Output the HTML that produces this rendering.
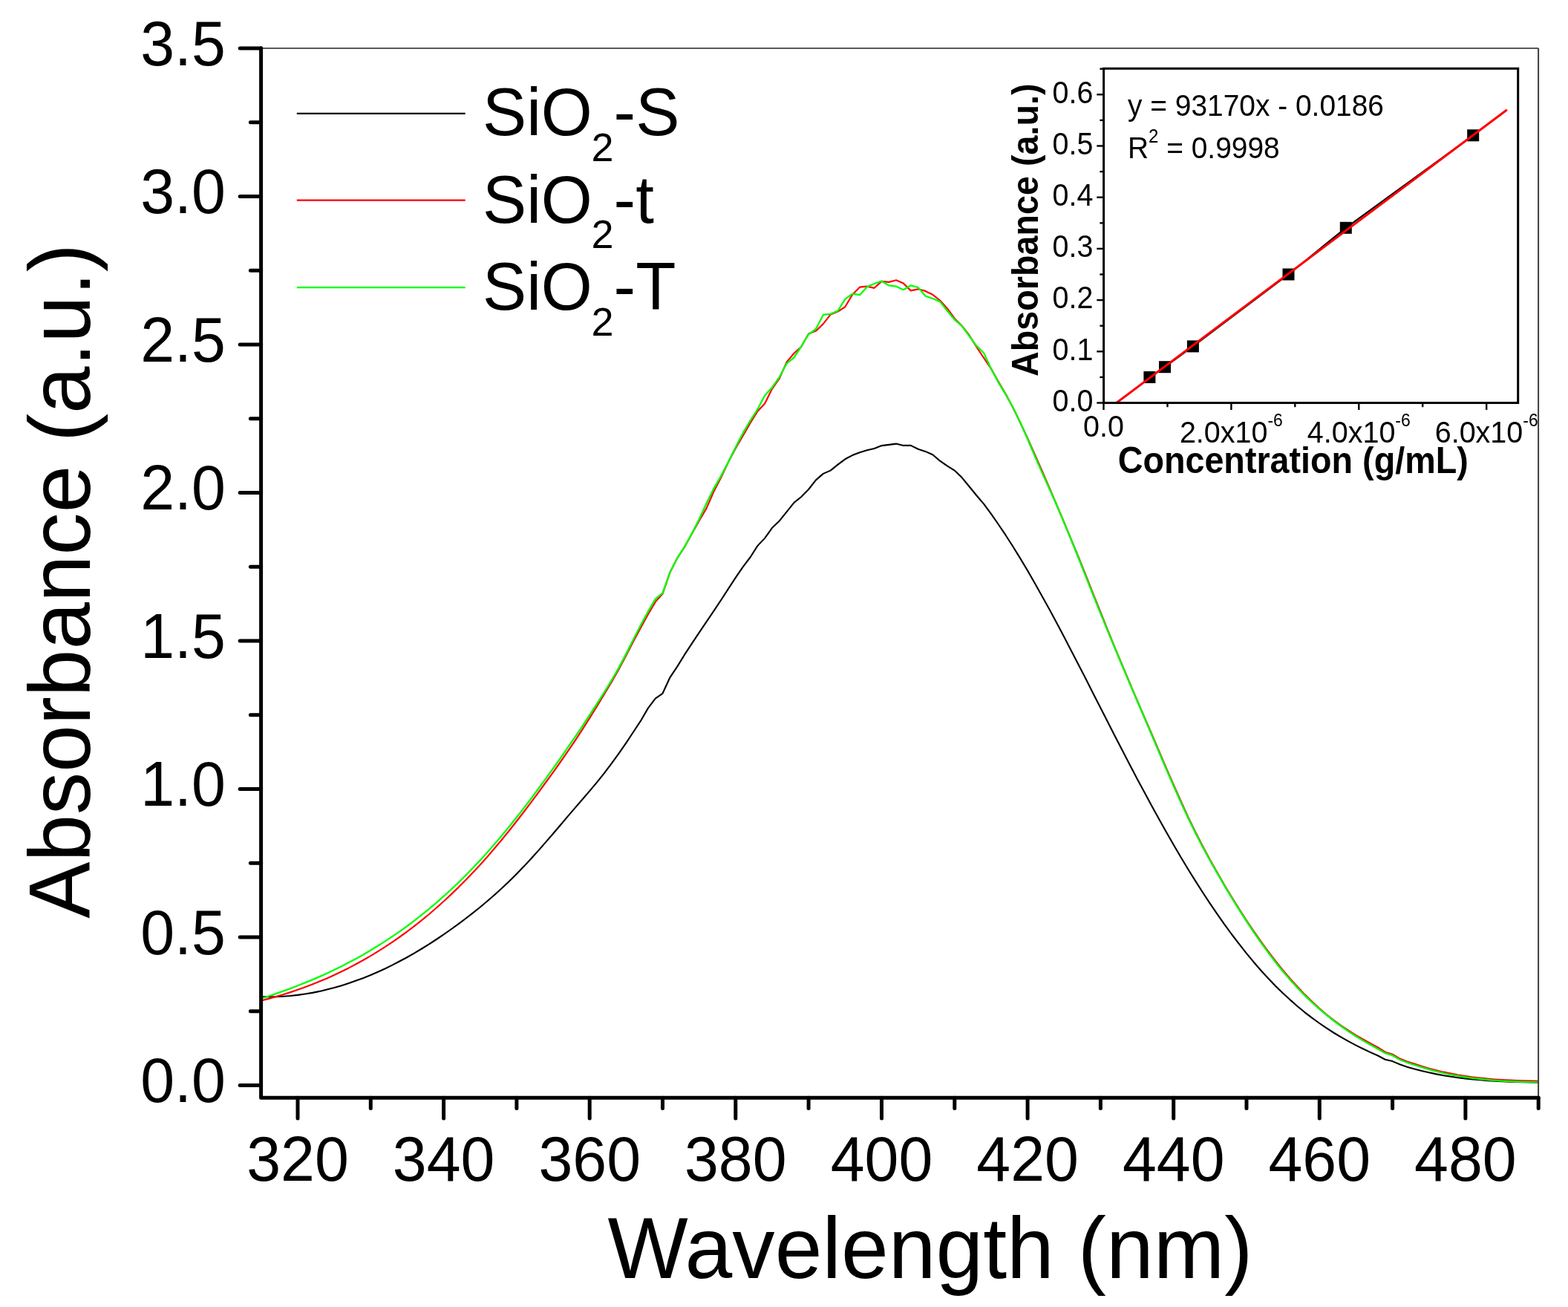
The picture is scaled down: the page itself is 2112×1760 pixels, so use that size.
<!DOCTYPE html><html><head><meta charset="utf-8"><style>html,body{margin:0;padding:0;background:#fff;}svg{display:block;}text{font-family:"Liberation Sans",Arial,sans-serif;}</style></head><body>
<svg width="2112" height="1760" viewBox="0 0 2112 1760">
<rect width="2112" height="1760" fill="#fff"/>
<path d="M351.9,1342.2 L361.7,1342.3 L371.5,1342.2 L381.3,1341.7 L391.2,1341.0 L401.0,1339.9 L410.8,1338.5 L420.7,1336.9 L430.5,1334.9 L440.3,1332.6 L450.2,1330.1 L460.0,1327.2 L469.8,1324.1 L479.6,1320.6 L489.5,1316.9 L499.3,1313.0 L509.1,1308.7 L519.0,1304.2 L528.8,1299.4 L538.6,1294.3 L548.5,1289.0 L558.3,1283.4 L568.1,1277.5 L578.0,1271.4 L587.8,1265.0 L597.6,1258.4 L607.4,1251.5 L617.3,1244.4 L627.1,1237.0 L636.9,1229.4 L646.8,1221.5 L656.6,1213.2 L666.4,1204.7 L676.3,1195.8 L686.1,1186.5 L695.9,1176.8 L705.8,1166.6 L715.6,1156.0 L725.4,1145.1 L735.2,1133.9 L745.1,1122.5 L754.9,1111.0 L764.7,1099.4 L774.6,1087.9 L784.4,1076.5 L794.2,1065.1 L804.1,1053.4 L813.9,1041.1 L823.7,1028.2 L833.5,1014.6 L843.4,1000.3 L853.2,985.5 L863.0,970.7 L872.9,953.6 L882.7,940.6 L892.5,933.8 L902.4,912.3 L912.2,897.6 L922.0,881.7 L931.9,866.6 L941.7,851.9 L951.5,837.4 L961.3,822.9 L971.2,808.0 L981.0,792.9 L990.8,777.9 L1000.7,763.3 L1010.5,750.5 L1020.3,735.1 L1030.2,724.6 L1040.0,710.8 L1049.8,701.4 L1059.7,689.1 L1069.5,676.9 L1079.3,669.0 L1089.1,659.0 L1099.0,646.4 L1108.8,637.9 L1118.6,633.6 L1128.5,625.6 L1138.3,618.3 L1148.1,613.1 L1158.0,609.2 L1167.8,606.3 L1177.6,603.9 L1187.5,600.1 L1197.3,598.9 L1207.1,597.6 L1216.9,599.9 L1226.8,599.9 L1236.6,604.8 L1246.4,607.9 L1256.3,612.3 L1266.1,620.7 L1275.9,627.4 L1285.8,633.6 L1295.6,643.1 L1305.4,655.0 L1315.2,667.0 L1325.1,678.6 L1334.9,691.8 L1344.7,706.0 L1354.6,720.7 L1364.4,736.0 L1374.2,751.9 L1384.1,768.4 L1393.9,785.4 L1403.7,802.9 L1413.6,820.8 L1423.4,839.0 L1433.2,857.6 L1443.0,876.4 L1452.9,895.5 L1462.7,914.6 L1472.5,933.9 L1482.4,953.2 L1492.2,972.5 L1502.0,991.7 L1511.9,1010.8 L1521.7,1029.7 L1531.5,1048.4 L1541.4,1066.8 L1551.2,1085.0 L1561.0,1102.8 L1570.8,1120.3 L1580.7,1137.5 L1590.5,1154.2 L1600.3,1170.5 L1610.2,1186.4 L1620.0,1201.8 L1629.8,1216.7 L1639.7,1231.1 L1649.5,1245.1 L1659.3,1258.5 L1669.2,1271.4 L1679.0,1283.8 L1688.8,1295.7 L1698.6,1307.0 L1708.5,1317.7 L1718.3,1327.9 L1728.1,1337.5 L1738.0,1346.6 L1747.8,1355.2 L1757.6,1363.3 L1767.5,1370.9 L1777.3,1378.0 L1787.1,1384.7 L1796.9,1391.0 L1806.8,1396.8 L1816.6,1402.4 L1826.4,1407.6 L1836.3,1412.5 L1846.1,1417.1 L1855.9,1421.5 L1865.8,1426.8 L1875.6,1429.1 L1885.4,1433.3 L1895.3,1436.7 L1905.1,1439.4 L1914.9,1442.0 L1924.7,1444.3 L1934.6,1446.4 L1944.4,1448.2 L1954.2,1449.8 L1964.1,1451.2 L1973.9,1452.4 L1983.7,1453.4 L1993.6,1454.3 L2003.4,1455.1 L2013.2,1455.7 L2023.1,1456.2 L2032.9,1456.6 L2042.7,1457.0 L2052.5,1457.2 L2062.4,1457.4 L2072.2,1457.6" fill="none" stroke="#000" stroke-width="2.1" stroke-linejoin="round"/>
<path d="M351.9,1347.5 L361.7,1344.9 L371.5,1342.1 L381.3,1339.2 L391.2,1336.1 L401.0,1332.8 L410.8,1329.2 L420.7,1325.5 L430.5,1321.5 L440.3,1317.4 L450.2,1312.9 L460.0,1308.3 L469.8,1303.4 L479.6,1298.2 L489.5,1292.8 L499.3,1287.1 L509.1,1281.1 L519.0,1274.9 L528.8,1268.3 L538.6,1261.5 L548.5,1254.3 L558.3,1246.9 L568.1,1239.1 L578.0,1231.0 L587.8,1222.5 L597.6,1213.7 L607.4,1204.6 L617.3,1195.1 L627.1,1185.2 L636.9,1175.0 L646.8,1164.4 L656.6,1153.4 L666.4,1142.0 L676.3,1130.3 L686.1,1118.2 L695.9,1105.7 L705.8,1093.0 L715.6,1080.1 L725.4,1066.9 L735.2,1053.5 L745.1,1039.9 L754.9,1026.0 L764.7,1011.8 L774.6,997.3 L784.4,982.3 L794.2,966.9 L804.1,951.0 L813.9,934.8 L823.7,918.5 L833.5,901.2 L843.4,882.6 L853.2,863.6 L863.0,845.2 L872.9,827.2 L882.7,810.6 L892.5,799.6 L902.4,770.8 L912.2,751.6 L922.0,736.6 L931.9,718.8 L941.7,701.2 L951.5,684.6 L961.3,662.0 L971.2,643.0 L981.0,622.3 L990.8,603.8 L1000.7,586.8 L1010.5,569.7 L1020.3,554.0 L1030.2,543.2 L1040.0,523.5 L1049.8,509.6 L1059.7,487.4 L1069.5,475.7 L1079.3,466.7 L1089.1,449.5 L1099.0,445.6 L1108.8,436.1 L1118.6,423.6 L1128.5,419.6 L1138.3,413.3 L1148.1,396.8 L1158.0,386.7 L1167.8,385.7 L1177.6,387.8 L1187.5,378.9 L1197.3,379.9 L1207.1,377.3 L1216.9,381.6 L1226.8,391.4 L1236.6,389.3 L1246.4,391.9 L1256.3,396.8 L1266.1,404.5 L1275.9,415.4 L1285.8,429.0 L1295.6,438.8 L1305.4,451.3 L1315.2,467.0 L1325.1,482.0 L1334.9,496.4 L1344.7,513.8 L1354.6,530.6 L1364.4,549.1 L1374.2,569.1 L1384.1,590.2 L1393.9,612.1 L1403.7,634.5 L1413.6,657.2 L1423.4,680.2 L1433.2,703.3 L1443.0,726.8 L1452.9,750.7 L1462.7,775.1 L1472.5,799.9 L1482.4,824.5 L1492.2,848.8 L1502.0,872.8 L1511.9,896.5 L1521.7,919.8 L1531.5,942.8 L1541.4,965.6 L1551.2,988.3 L1561.0,1011.2 L1570.8,1034.1 L1580.7,1056.7 L1590.5,1078.8 L1600.3,1100.2 L1610.2,1120.4 L1620.0,1139.6 L1629.8,1157.8 L1639.7,1175.3 L1649.5,1192.2 L1659.3,1208.6 L1669.2,1224.4 L1679.0,1239.6 L1688.8,1254.2 L1698.6,1268.2 L1708.5,1281.6 L1718.3,1294.4 L1728.1,1306.6 L1738.0,1318.2 L1747.8,1329.1 L1757.6,1339.4 L1767.5,1349.1 L1777.3,1358.1 L1787.1,1366.5 L1796.9,1374.2 L1806.8,1381.3 L1816.6,1387.9 L1826.4,1394.1 L1836.3,1399.8 L1846.1,1405.3 L1855.9,1410.5 L1865.8,1416.7 L1875.6,1419.8 L1885.4,1425.6 L1895.3,1429.5 L1905.1,1432.6 L1914.9,1435.8 L1924.7,1438.7 L1934.6,1441.3 L1944.4,1443.7 L1954.2,1445.7 L1964.1,1447.6 L1973.9,1449.1 L1983.7,1450.5 L1993.6,1451.7 L2003.4,1452.7 L2013.2,1453.5 L2023.1,1454.2 L2032.9,1454.7 L2042.7,1455.1 L2052.5,1455.4 L2062.4,1455.6 L2072.2,1455.8" fill="none" stroke="#f00" stroke-width="2.2" stroke-linejoin="round"/>
<path d="M351.9,1344.7 L361.7,1341.5 L371.5,1338.1 L381.3,1334.7 L391.2,1331.1 L401.0,1327.3 L410.8,1323.4 L420.7,1319.4 L430.5,1315.1 L440.3,1310.7 L450.2,1306.0 L460.0,1301.2 L469.8,1296.1 L479.6,1290.9 L489.5,1285.4 L499.3,1279.6 L509.1,1273.6 L519.0,1267.4 L528.8,1260.9 L538.6,1254.1 L548.5,1247.0 L558.3,1239.6 L568.1,1231.9 L578.0,1223.9 L587.8,1215.6 L597.6,1206.9 L607.4,1198.0 L617.3,1188.6 L627.1,1178.9 L636.9,1168.8 L646.8,1158.4 L656.6,1147.6 L666.4,1136.3 L676.3,1124.7 L686.1,1112.8 L695.9,1100.5 L705.8,1087.9 L715.6,1075.0 L725.4,1061.8 L735.2,1048.4 L745.1,1034.7 L754.9,1020.8 L764.7,1006.7 L774.6,992.4 L784.4,977.8 L794.2,962.9 L804.1,947.7 L813.9,932.2 L823.7,916.2 L833.5,899.1 L843.4,880.4 L853.2,861.0 L863.0,841.8 L872.9,823.6 L882.7,806.7 L892.5,798.7 L902.4,770.8 L912.2,751.6 L922.0,736.4 L931.9,718.6 L941.7,699.2 L951.5,677.9 L961.3,658.1 L971.2,640.9 L981.0,622.1 L990.8,602.2 L1000.7,583.2 L1010.5,566.5 L1020.3,551.3 L1030.2,532.5 L1040.0,521.7 L1049.8,507.8 L1059.7,489.4 L1069.5,481.5 L1079.3,466.5 L1089.1,450.2 L1099.0,443.0 L1108.8,423.9 L1118.6,422.8 L1128.5,418.6 L1138.3,402.9 L1148.1,395.6 L1158.0,397.2 L1167.8,386.4 L1177.6,382.0 L1187.5,378.6 L1197.3,384.4 L1207.1,385.7 L1216.9,390.2 L1226.8,384.3 L1236.6,387.0 L1246.4,398.6 L1256.3,402.0 L1266.1,406.1 L1275.9,418.6 L1285.8,430.5 L1295.6,438.8 L1305.4,452.4 L1315.2,465.6 L1325.1,475.3 L1334.9,496.5 L1344.7,514.8 L1354.6,531.2 L1364.4,548.5 L1374.2,568.8 L1384.1,591.2 L1393.9,614.2 L1403.7,636.6 L1413.6,658.4 L1423.4,680.5 L1433.2,703.6 L1443.0,727.5 L1452.9,752.0 L1462.7,776.8 L1472.5,801.6 L1482.4,826.1 L1492.2,850.1 L1502.0,873.8 L1511.9,897.2 L1521.7,920.4 L1531.5,943.5 L1541.4,966.5 L1551.2,989.5 L1561.0,1012.6 L1570.8,1035.6 L1580.7,1058.3 L1590.5,1080.4 L1600.3,1101.6 L1610.2,1121.8 L1620.0,1140.8 L1629.8,1158.8 L1639.7,1176.2 L1649.5,1193.1 L1659.3,1209.5 L1669.2,1225.3 L1679.0,1240.7 L1688.8,1255.4 L1698.6,1269.6 L1708.5,1283.1 L1718.3,1296.0 L1728.1,1308.2 L1738.0,1319.7 L1747.8,1330.5 L1757.6,1340.6 L1767.5,1350.1 L1777.3,1358.9 L1787.1,1367.2 L1796.9,1375.0 L1806.8,1382.3 L1816.6,1389.1 L1826.4,1395.5 L1836.3,1401.5 L1846.1,1407.1 L1855.9,1412.4 L1865.8,1418.2 L1875.6,1421.2 L1885.4,1427.0 L1895.3,1430.8 L1905.1,1434.0 L1914.9,1437.2 L1924.7,1440.1 L1934.6,1442.7 L1944.4,1445.0 L1954.2,1447.1 L1964.1,1448.9 L1973.9,1450.5 L1983.7,1451.8 L1993.6,1453.0 L2003.4,1454.0 L2013.2,1454.9 L2023.1,1455.6 L2032.9,1456.1 L2042.7,1456.5 L2052.5,1456.9 L2062.4,1457.1 L2072.2,1457.3" fill="none" stroke="#0f0" stroke-width="2.3" stroke-linejoin="round"/>
<line x1="352" y1="65.1" x2="2072.2" y2="65.1" stroke="#585858" stroke-width="2"/>
<line x1="2072.1" y1="65.1" x2="2072.1" y2="1478" stroke="#3c3c3c" stroke-width="2"/>
<path d="M351.6,64.8 L351.6,1478.3 L2072.2,1478.3" fill="none" stroke="#000" stroke-width="5" stroke-linejoin="round" stroke-linecap="round"/>
<line x1="323.2" y1="1461.5" x2="351.6" y2="1461.5" stroke="#000" stroke-width="5" stroke-linecap="round"/>
<line x1="337.4" y1="1361.8" x2="351.6" y2="1361.8" stroke="#000" stroke-width="5" stroke-linecap="round"/>
<line x1="323.2" y1="1262.0" x2="351.6" y2="1262.0" stroke="#000" stroke-width="5" stroke-linecap="round"/>
<line x1="337.4" y1="1162.2" x2="351.6" y2="1162.2" stroke="#000" stroke-width="5" stroke-linecap="round"/>
<line x1="323.2" y1="1062.5" x2="351.6" y2="1062.5" stroke="#000" stroke-width="5" stroke-linecap="round"/>
<line x1="337.4" y1="962.8" x2="351.6" y2="962.8" stroke="#000" stroke-width="5" stroke-linecap="round"/>
<line x1="323.2" y1="863.0" x2="351.6" y2="863.0" stroke="#000" stroke-width="5" stroke-linecap="round"/>
<line x1="337.4" y1="763.2" x2="351.6" y2="763.2" stroke="#000" stroke-width="5" stroke-linecap="round"/>
<line x1="323.2" y1="663.5" x2="351.6" y2="663.5" stroke="#000" stroke-width="5" stroke-linecap="round"/>
<line x1="337.4" y1="563.8" x2="351.6" y2="563.8" stroke="#000" stroke-width="5" stroke-linecap="round"/>
<line x1="323.2" y1="464.0" x2="351.6" y2="464.0" stroke="#000" stroke-width="5" stroke-linecap="round"/>
<line x1="337.4" y1="364.2" x2="351.6" y2="364.2" stroke="#000" stroke-width="5" stroke-linecap="round"/>
<line x1="323.2" y1="264.5" x2="351.6" y2="264.5" stroke="#000" stroke-width="5" stroke-linecap="round"/>
<line x1="337.4" y1="164.8" x2="351.6" y2="164.8" stroke="#000" stroke-width="5" stroke-linecap="round"/>
<line x1="323.2" y1="65.0" x2="351.6" y2="65.0" stroke="#000" stroke-width="5" stroke-linecap="round"/>
<line x1="401.0" y1="1478.3" x2="401.0" y2="1506.0" stroke="#000" stroke-width="5" stroke-linecap="round"/>
<line x1="499.3" y1="1478.3" x2="499.3" y2="1492.4" stroke="#000" stroke-width="5" stroke-linecap="round"/>
<line x1="597.6" y1="1478.3" x2="597.6" y2="1506.0" stroke="#000" stroke-width="5" stroke-linecap="round"/>
<line x1="695.9" y1="1478.3" x2="695.9" y2="1492.4" stroke="#000" stroke-width="5" stroke-linecap="round"/>
<line x1="794.2" y1="1478.3" x2="794.2" y2="1506.0" stroke="#000" stroke-width="5" stroke-linecap="round"/>
<line x1="892.5" y1="1478.3" x2="892.5" y2="1492.4" stroke="#000" stroke-width="5" stroke-linecap="round"/>
<line x1="990.8" y1="1478.3" x2="990.8" y2="1506.0" stroke="#000" stroke-width="5" stroke-linecap="round"/>
<line x1="1089.1" y1="1478.3" x2="1089.1" y2="1492.4" stroke="#000" stroke-width="5" stroke-linecap="round"/>
<line x1="1187.5" y1="1478.3" x2="1187.5" y2="1506.0" stroke="#000" stroke-width="5" stroke-linecap="round"/>
<line x1="1285.8" y1="1478.3" x2="1285.8" y2="1492.4" stroke="#000" stroke-width="5" stroke-linecap="round"/>
<line x1="1384.1" y1="1478.3" x2="1384.1" y2="1506.0" stroke="#000" stroke-width="5" stroke-linecap="round"/>
<line x1="1482.4" y1="1478.3" x2="1482.4" y2="1492.4" stroke="#000" stroke-width="5" stroke-linecap="round"/>
<line x1="1580.7" y1="1478.3" x2="1580.7" y2="1506.0" stroke="#000" stroke-width="5" stroke-linecap="round"/>
<line x1="1679.0" y1="1478.3" x2="1679.0" y2="1492.4" stroke="#000" stroke-width="5" stroke-linecap="round"/>
<line x1="1777.3" y1="1478.3" x2="1777.3" y2="1506.0" stroke="#000" stroke-width="5" stroke-linecap="round"/>
<line x1="1875.6" y1="1478.3" x2="1875.6" y2="1492.4" stroke="#000" stroke-width="5" stroke-linecap="round"/>
<line x1="1973.9" y1="1478.3" x2="1973.9" y2="1506.0" stroke="#000" stroke-width="5" stroke-linecap="round"/>
<line x1="2072.2" y1="1478.3" x2="2072.2" y2="1492.4" stroke="#000" stroke-width="5" stroke-linecap="round"/>
<text transform="translate(303.8,1484.1) scale(1,1.035)" font-size="82.5" text-anchor="end">0.0</text>
<text transform="translate(303.8,1284.6) scale(1,1.035)" font-size="82.5" text-anchor="end">0.5</text>
<text transform="translate(303.8,1085.1) scale(1,1.035)" font-size="82.5" text-anchor="end">1.0</text>
<text transform="translate(303.8,885.6) scale(1,1.035)" font-size="82.5" text-anchor="end">1.5</text>
<text transform="translate(303.8,686.1) scale(1,1.035)" font-size="82.5" text-anchor="end">2.0</text>
<text transform="translate(303.8,486.6) scale(1,1.035)" font-size="82.5" text-anchor="end">2.5</text>
<text transform="translate(303.8,287.1) scale(1,1.035)" font-size="82.5" text-anchor="end">3.0</text>
<text transform="translate(303.8,87.6) scale(1,1.035)" font-size="82.5" text-anchor="end">3.5</text>
<text transform="translate(401.0,1589.8) scale(1,1.035)" font-size="82.5" text-anchor="middle">320</text>
<text transform="translate(597.6,1589.8) scale(1,1.035)" font-size="82.5" text-anchor="middle">340</text>
<text transform="translate(794.2,1589.8) scale(1,1.035)" font-size="82.5" text-anchor="middle">360</text>
<text transform="translate(990.8,1589.8) scale(1,1.035)" font-size="82.5" text-anchor="middle">380</text>
<text transform="translate(1187.5,1589.8) scale(1,1.035)" font-size="82.5" text-anchor="middle">400</text>
<text transform="translate(1384.1,1589.8) scale(1,1.035)" font-size="82.5" text-anchor="middle">420</text>
<text transform="translate(1580.7,1589.8) scale(1,1.035)" font-size="82.5" text-anchor="middle">440</text>
<text transform="translate(1777.3,1589.8) scale(1,1.035)" font-size="82.5" text-anchor="middle">460</text>
<text transform="translate(1973.9,1589.8) scale(1,1.035)" font-size="82.5" text-anchor="middle">480</text>
<text transform="translate(1253,1721.3) scale(1,1.015)" font-size="114.7" text-anchor="middle">Wavelength (nm)</text>
<text transform="translate(121,782.5) rotate(-90) scale(1,1.015)" x="0" y="0" font-size="114.3" text-anchor="middle">Absorbance (a.u.)</text>
<line x1="399.8" y1="152.9" x2="626.7" y2="152.9" stroke="#000" stroke-width="2.3"/>
<text transform="translate(650,182.0) scale(1,1.02)" font-size="88.7">SiO</text>
<text x="796.6" y="216.7" font-size="54">2</text>
<text transform="translate(826.6,182.0) scale(1,1.02)" font-size="88.7">-S</text>
<line x1="399.8" y1="269.7" x2="626.7" y2="269.7" stroke="#f00" stroke-width="2.3"/>
<text transform="translate(650,299.6) scale(1,1.02)" font-size="88.7">SiO</text>
<text x="796.6" y="334.3" font-size="54">2</text>
<text transform="translate(826.6,299.6) scale(1,1.02)" font-size="88.7">-t</text>
<line x1="399.8" y1="387.2" x2="626.7" y2="387.2" stroke="#0f0" stroke-width="2.3"/>
<text transform="translate(650,417.3) scale(1,1.02)" font-size="88.7">SiO</text>
<text x="796.6" y="452.0" font-size="54">2</text>
<text transform="translate(826.6,417.3) scale(1,1.02)" font-size="88.7">-T</text>
<g>
<polyline points="1548.4,508.0 1569.0,494.2 1606.9,466.4 1735.5,369.5 1812.8,306.8 1984.2,182.3" fill="none" stroke="#000" stroke-width="2.2"/>
<rect x="1540.4" y="500.0" width="16" height="16" fill="#000"/>
<rect x="1561.0" y="486.2" width="16" height="16" fill="#000"/>
<rect x="1598.9" y="458.4" width="16" height="16" fill="#000"/>
<rect x="1727.5" y="361.5" width="16" height="16" fill="#000"/>
<rect x="1804.8" y="298.8" width="16" height="16" fill="#000"/>
<rect x="1976.2" y="174.3" width="16" height="16" fill="#000"/>
<line x1="1503.7" y1="542.5" x2="2028.9" y2="148.5" stroke="#f00" stroke-width="3" stroke-linecap="round"/>
<rect x="1486.6" y="92.3" width="558.1" height="450.2" fill="none" stroke="#000" stroke-width="3"/>
<line x1="1477.3" y1="542.5" x2="1486.6" y2="542.5" stroke="#000" stroke-width="2.4"/>
<line x1="1481.4" y1="507.9" x2="1486.6" y2="507.9" stroke="#000" stroke-width="2.4"/>
<line x1="1477.3" y1="473.3" x2="1486.6" y2="473.3" stroke="#000" stroke-width="2.4"/>
<line x1="1481.4" y1="438.7" x2="1486.6" y2="438.7" stroke="#000" stroke-width="2.4"/>
<line x1="1477.3" y1="404.1" x2="1486.6" y2="404.1" stroke="#000" stroke-width="2.4"/>
<line x1="1481.4" y1="369.5" x2="1486.6" y2="369.5" stroke="#000" stroke-width="2.4"/>
<line x1="1477.3" y1="334.9" x2="1486.6" y2="334.9" stroke="#000" stroke-width="2.4"/>
<line x1="1481.4" y1="300.3" x2="1486.6" y2="300.3" stroke="#000" stroke-width="2.4"/>
<line x1="1477.3" y1="265.7" x2="1486.6" y2="265.7" stroke="#000" stroke-width="2.4"/>
<line x1="1481.4" y1="231.1" x2="1486.6" y2="231.1" stroke="#000" stroke-width="2.4"/>
<line x1="1477.3" y1="196.5" x2="1486.6" y2="196.5" stroke="#000" stroke-width="2.4"/>
<line x1="1481.4" y1="161.9" x2="1486.6" y2="161.9" stroke="#000" stroke-width="2.4"/>
<line x1="1477.3" y1="127.3" x2="1486.6" y2="127.3" stroke="#000" stroke-width="2.4"/>
<line x1="1481.4" y1="92.7" x2="1486.6" y2="92.7" stroke="#000" stroke-width="2.4"/>
<line x1="1486.5" y1="542.5" x2="1486.5" y2="552.0" stroke="#000" stroke-width="2.4"/>
<line x1="1572.5" y1="542.5" x2="1572.5" y2="548.2" stroke="#000" stroke-width="2.4"/>
<line x1="1658.4" y1="542.5" x2="1658.4" y2="552.0" stroke="#000" stroke-width="2.4"/>
<line x1="1744.3" y1="542.5" x2="1744.3" y2="548.2" stroke="#000" stroke-width="2.4"/>
<line x1="1830.3" y1="542.5" x2="1830.3" y2="552.0" stroke="#000" stroke-width="2.4"/>
<line x1="1916.2" y1="542.5" x2="1916.2" y2="548.2" stroke="#000" stroke-width="2.4"/>
<line x1="2002.2" y1="542.5" x2="2002.2" y2="552.0" stroke="#000" stroke-width="2.4"/>
<text transform="translate(1472.5,553.7) scale(1,1.055)" font-size="39.5" text-anchor="end">0.0</text>
<text transform="translate(1472.5,484.5) scale(1,1.055)" font-size="39.5" text-anchor="end">0.1</text>
<text transform="translate(1472.5,415.3) scale(1,1.055)" font-size="39.5" text-anchor="end">0.2</text>
<text transform="translate(1472.5,346.1) scale(1,1.055)" font-size="39.5" text-anchor="end">0.3</text>
<text transform="translate(1472.5,276.9) scale(1,1.055)" font-size="39.5" text-anchor="end">0.4</text>
<text transform="translate(1472.5,207.7) scale(1,1.055)" font-size="39.5" text-anchor="end">0.5</text>
<text transform="translate(1472.5,138.5) scale(1,1.055)" font-size="39.5" text-anchor="end">0.6</text>
<text transform="translate(1486.5,587.9) scale(1,1.045)" font-size="39.5" text-anchor="middle">0.0</text>
<text transform="translate(1658.4,595.7) scale(1,1.03)" font-size="39.5" text-anchor="middle">2.0x10<tspan font-size="23" dy="-20.6">-6</tspan></text>
<text transform="translate(1830.3,595.7) scale(1,1.03)" font-size="39.5" text-anchor="middle">4.0x10<tspan font-size="23" dy="-20.6">-6</tspan></text>
<text transform="translate(2002.2,595.7) scale(1,1.03)" font-size="39.5" text-anchor="middle">6.0x10<tspan font-size="23" dy="-20.6">-6</tspan></text>
<text transform="translate(1741.7,637.3) scale(1,1.06)" font-size="46.7" font-weight="bold" text-anchor="middle">Concentration (g/mL)</text>
<text transform="translate(1398,309.7) rotate(-90) scale(1,1.055)" font-size="46.7" font-weight="bold" text-anchor="middle">Absorbance (a.u.)</text>
<text transform="translate(1519,156.2) scale(1,1.06)" font-size="38.9">y = 93170x - 0.0186</text>
<text transform="translate(1519,212.5) scale(1,1.048)" font-size="38.9">R<tspan font-size="24" dy="-20">2</tspan><tspan dy="20"> = 0.9998</tspan></text>
</g>
</svg></body></html>
